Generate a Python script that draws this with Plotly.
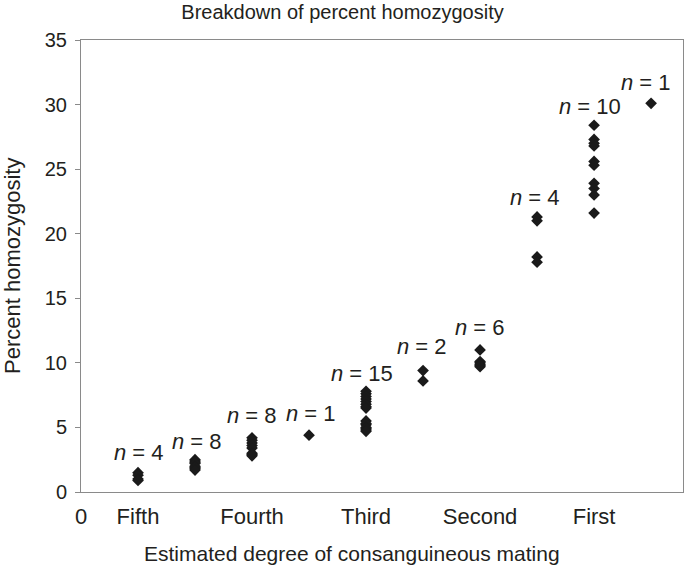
import plotly.graph_objects as go

# ---- data ----
degree_positions = [1, 2, 3, 4, 5, 6, 7, 8, 9, 10]
group_values = [
    [1.5, 1.3, 1.0, 0.9],
    [2.5, 2.4, 2.3, 2.2, 2.0, 1.9, 1.8, 1.7],
    [4.2, 4.0, 3.8, 3.6, 3.4, 3.0, 2.9, 2.8],
    [4.4],
    [7.8, 7.6, 7.4, 7.2, 7.0, 6.8, 6.6, 6.5, 5.5, 5.3, 5.2, 5.0, 4.9, 4.8, 4.7],
    [9.4, 8.6],
    [11.0, 10.1, 10.0, 9.9, 9.8, 9.7],
    [21.3, 21.0, 18.2, 17.8],
    [28.4, 27.3, 27.0, 26.8, 25.6, 25.3, 23.9, 23.5, 23.0, 21.6],
    [30.1],
]
tick_values = [0, 1, 3, 5, 7, 9]
tick_labels = ["0", "Fifth", "Fourth", "Third", "Second", "First"]

# label offsets (style only, pixels)
label_xshift = [1, 2, 0, 2, -4, -1, 0, -2, -4, -5]
label_yshift = [20, 18, 22, 22, 18, 24, 22, 19, 19, 21]

FONT = "Liberation Sans, Arial, Helvetica, sans-serif"
TXT = "#231f20"
AX = "#8a8a8a"

xs, ys = [], []
for xp, vals in zip(degree_positions, group_values):
    for v in vals:
        xs.append(xp)
        ys.append(v)

fig = go.Figure()
fig.add_trace(go.Scatter(
    x=xs, y=ys, mode="markers",
    marker=dict(symbol="diamond", size=9, color="#1a1a1a", line=dict(width=0)),
    showlegend=False, hoverinfo="x+y",
))

for i, (xp, vals) in enumerate(zip(degree_positions, group_values)):
    fig.add_annotation(
        x=xp, y=max(vals), xref="x", yref="y",
        text=f"<i>n</i> = {len(vals)}", showarrow=False,
        xshift=label_xshift[i], yshift=label_yshift[i],
        yanchor="middle", xanchor="center",
        font=dict(family=FONT, size=22, color=TXT),
    )

# axis titles as paper annotations
fig.add_annotation(
    text="Estimated degree of consanguineous mating", xref="paper", yref="paper",
    x=0.45, y=-0.135, xanchor="center", yanchor="middle", showarrow=False,
    font=dict(family=FONT, size=21, color=TXT),
)
fig.add_annotation(
    text="Percent homozygosity", xref="paper", yref="paper",
    x=-0.1146, y=0.5, xanchor="center", yanchor="middle", showarrow=False,
    textangle=-90, font=dict(family=FONT, size=22, color=TXT),
)

fig.update_layout(
    width=685, height=566,
    margin=dict(l=81, r=2, t=40, b=74, autoexpand=False),
    paper_bgcolor="white", plot_bgcolor="white",
    font=dict(family=FONT, color=TXT),
    title=dict(text="Breakdown of percent homozygosity", x=0.5, xref="container",
               xanchor="center", y=1 - 12 / 566, yref="container", yanchor="middle",
               font=dict(family=FONT, size=20, color=TXT)),
    xaxis=dict(
        range=[0, 10.56], tickvals=tick_values, ticktext=tick_labels,
        showgrid=False, zeroline=False, automargin=False,
        showline=True, linecolor=AX, linewidth=1, mirror=True,
        ticks="outside", ticklen=5, tickcolor="rgba(0,0,0,0)",
        tickfont=dict(family=FONT, size=22, color=TXT),
    ),
    yaxis=dict(
        range=[0, 35], tickvals=[0, 5, 10, 15, 20, 25, 30, 35],
        showgrid=False, zeroline=False, automargin=False,
        showline=True, linecolor=AX, linewidth=1, mirror=True,
        ticks="outside", ticklen=5, tickcolor=AX,
        ticklabelstandoff=4,
        tickfont=dict(family=FONT, size=20, color=TXT),
    ),
)

fig.write_html("out.html", config={"displayModeBar": False},
               post_script="document.body.style.margin='0px';")
